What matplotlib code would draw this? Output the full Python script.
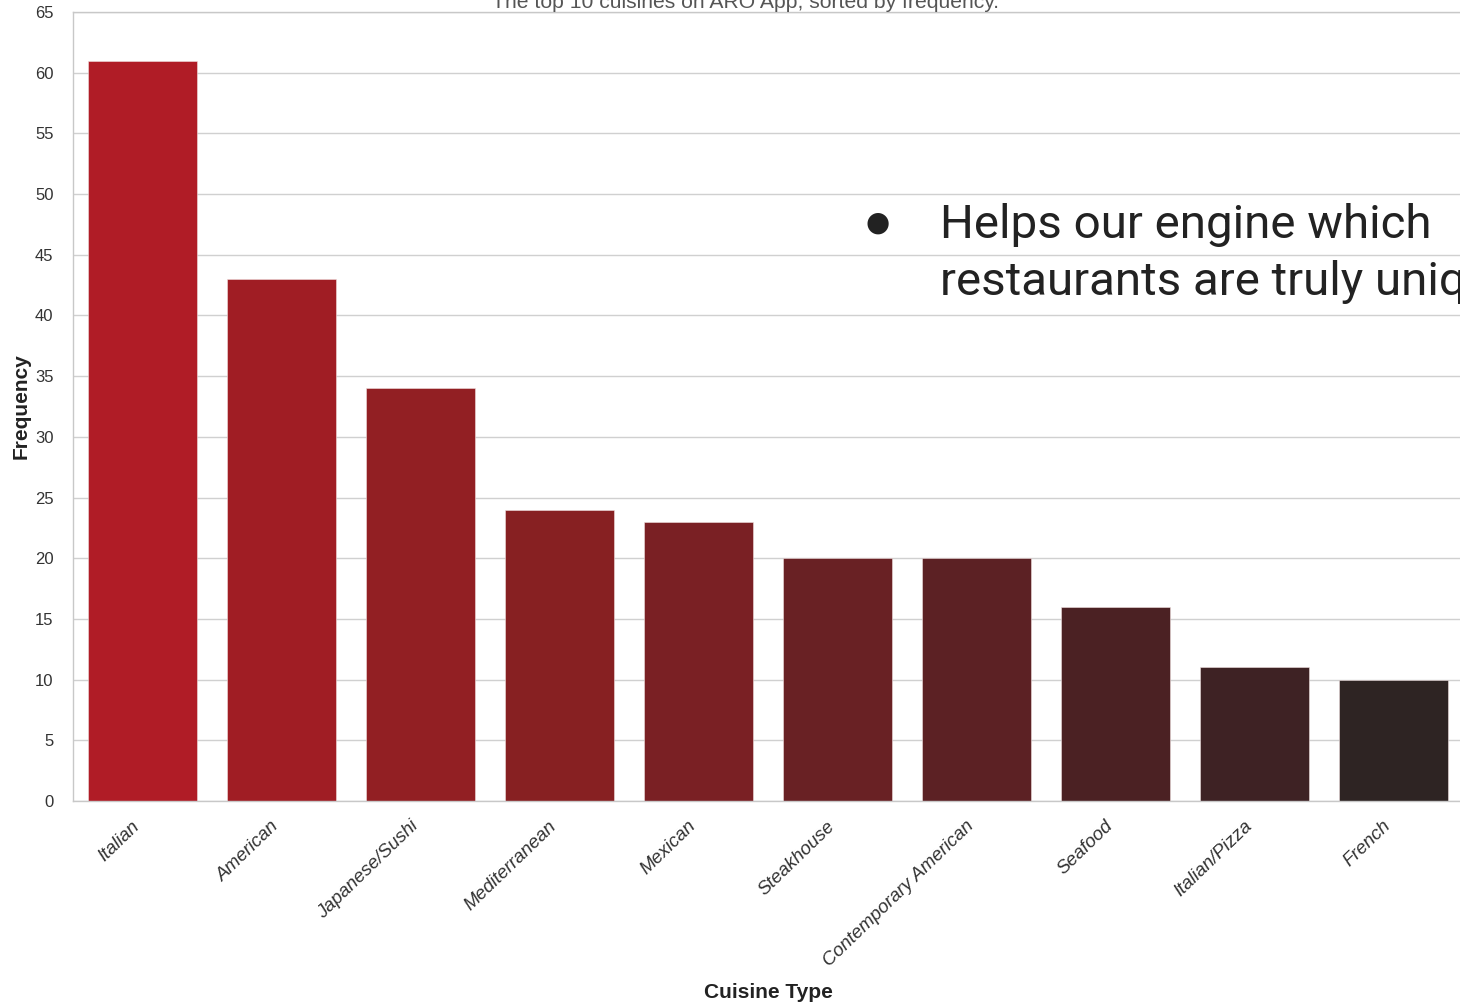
import matplotlib
matplotlib.use("Agg")
import matplotlib.pyplot as plt
import matplotlib.transforms as mtransforms
import seaborn as sns

cuisines = ["Italian", "American", "Japanese/Sushi", "Mediterranean", "Mexican",
            "Steakhouse", "Contemporary American", "Seafood", "Italian/Pizza", "French"]
frequency = [61, 43, 34, 24, 23, 20, 20, 16, 11, 10]
bar_colors = ["#B01C26", "#A01D24", "#921F23", "#872022", "#7A2024",
              "#692124", "#5C2124", "#4B2123", "#3E2224", "#2E2423"]
y_ticks = list(range(0, 66, 5))

sns.set_theme(style="whitegrid")
plt.rcParams["font.family"] = ["Liberation Sans", "DejaVu Sans"]

fig = plt.figure(figsize=(14.6, 10.05), dpi=100)
ax = fig.add_axes([73 / 1460, 1 - 801 / 1005, 1390 / 1460, 789 / 1005])

x = range(len(cuisines))
ax.bar(x, frequency, width=0.785, color=bar_colors, edgecolor="#f0e0e0", linewidth=0.4, zorder=2)

ax.set_xlim(-0.5, len(cuisines) - 0.5)
ax.set_ylim(0, 65)
ax.set_yticks(y_ticks)
ax.set_yticklabels([str(t) for t in y_ticks], fontsize=12, color="#333333")
ax.set_xticks(list(x))
ax.set_xticklabels(cuisines, rotation=44, ha="right", rotation_mode="anchor",
                   fontsize=13.5, style="italic", color="#333333")
ax.tick_params(axis="x", pad=6)
ax.tick_params(axis="y", pad=8)

# nudge the slanted category labels so their ends sit under the bar centres
shift = mtransforms.ScaledTranslation(-11 / 100, 0, fig.dpi_scale_trans)
for lbl in ax.get_xticklabels():
    lbl.set_transform(lbl.get_transform() + shift)

ax.grid(axis="y", color="#d0d0d0", linewidth=1.0, zorder=0)
ax.grid(axis="x", visible=False)
for side in ("left", "bottom", "top"):
    ax.spines[side].set_color("#c8c8c8")
    ax.spines[side].set_linewidth(1.0)
ax.spines["right"].set_visible(False)

ax.set_ylabel("Frequency", fontsize=15, fontweight="bold", color="#222222")
ax.yaxis.set_label_coords(-(73 - 31) / 1390, 0.5)
ax.set_xlabel("Cuisine Type", fontsize=15, fontweight="bold", color="#222222")
ax.xaxis.set_label_coords((768 - 73) / 1390, (801 - 983) / 789)

fig.text(745 / 1460, 1 - 8 / 1005, "The top 10 cuisines on ARO App, sorted by frequency.",
         ha="center", va="baseline", fontsize=15.2, color="#555555")

# slide note laid over the chart
fig.text(878 / 1460, 1 - 223 / 1005, "\u25CF", ha="center", va="center",
         fontsize=20, color="#222222", family=["DejaVu Sans"])
fig.text(940 / 1460, 1 - 238 / 1005, "Helps our engine which",
         ha="left", va="baseline", fontsize=34.2, color="#222222",
         family=["Roboto", "DejaVu Sans"])
fig.text(940 / 1460, 1 - 295 / 1005, "restaurants are truly unique",
         ha="left", va="baseline", fontsize=34.2, color="#222222",
         family=["Roboto", "DejaVu Sans"])

fig.savefig("out.png", dpi=100, facecolor="white")
